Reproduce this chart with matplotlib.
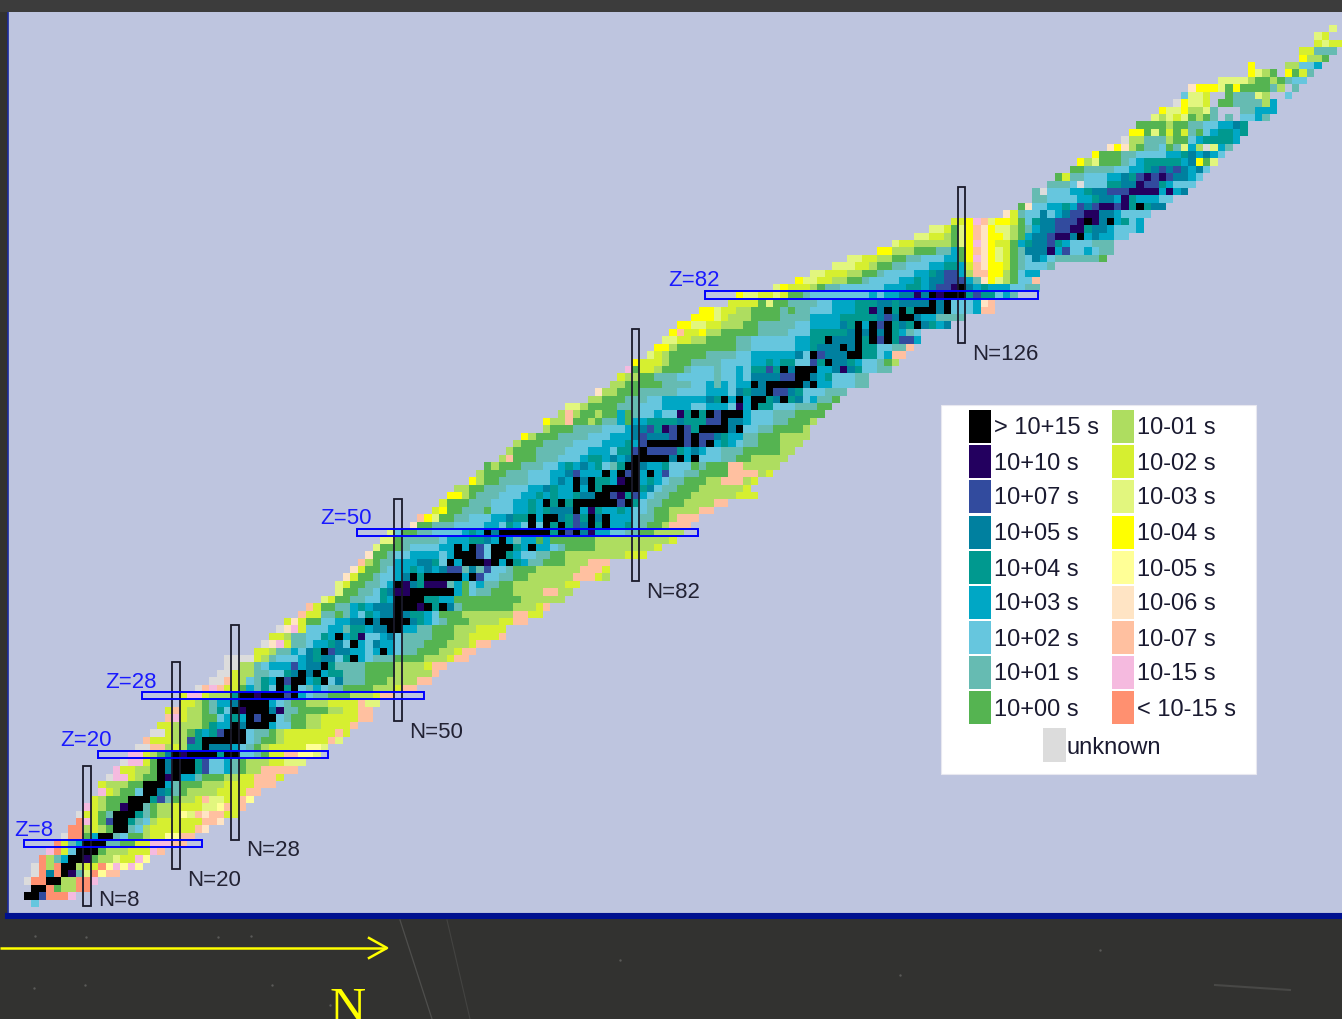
# half-life chart of the nuclides, colour per (N, Z) cell
import numpy as np
import matplotlib
matplotlib.use("Agg")
import matplotlib.pyplot as plt
from matplotlib.colors import ListedColormap
from matplotlib.patches import Rectangle

plt.rcParams['font.family'] = ['Liberation Sans', 'DejaVu Sans']

# one code per half-life class
CODES = "abcdefghijklmnopqru"
COLORS = ["#000000", "#23005f", "#324b9e", "#00809f", "#00998f", "#00a7c5",
          "#66c6de", "#66bbb2", "#55b451", "#aedd60", "#d6ef30", "#e2f67e",
          "#ffff00", "#ffff96", "#ffe4c4", "#ffc0a0", "#f5badf", "#ff9070",
          "#dcdcdc"]

# first N of every row, index = Z
ROW_START = [1, 0, 1, 0, 1, 1, 2, 3, 4, 5,
             6, 7, 7, 8, 9, 10, 10, 11, 12, 13,
             14, 15, 16, 17, 18, 19, 19, 21, 21, 23,
             25, 26, 27, 27, 31, 32, 33, 34, 35, 37,
             38, 40, 42, 42, 43, 44, 45, 46, 47, 48,
             49, 52, 53, 55, 56, 57, 58, 60, 61, 62,
             64, 65, 66, 67, 70, 70, 72, 73, 76, 77,
             79, 80, 81, 82, 84, 85, 86, 87, 88, 90,
             91, 95, 96, 101, 104, 106, 109, 111, 115, 117,
             120, 122, 125, 132, 134, 136, 136, 138, 139, 141,
             142, 144, 146, 148, 149, 150, 152, 153, 155, 156,
             157, 161, 165, 165, 172, 172, 174, 174, 176]

# half-life codes along N for every row, '.' = no cell
ROW_CODES = [
    "g", "aacrrrq", "aarijjrr", "urraajjrrq", "urdrabhlrnpp",
    "urjraajkkrnqnqn", "rjhfaabijjlkkqn", "qrkgaaaijjjkkkqp", "rkhfaaahhiikkqqqpp",
    "urrifaahgiijkknnpp", "rrjkjiaahgjkkkkkkpo", "rqkicaaehgjkkkkkkppo",
    "ukkihaaaehijjknlpoppkk", "qkjiibaahijjkkkkllnpkp", "kjiiiaaaechijjkpllkkpn",
    "qkjiigaadehijjjjkkkkpp", "kjjjiiaaafhiiijjjkkkkppp", "uqqkjiiabaffhiiijjkkpppk",
    "qkkjjiadaaaecggfhijjppppp", "uqqkiadaaaecggfhijjjkklll",
    "qqkjidabaaaaeaagghikkppnnl", "uuppjkjeeadddfghijkkkkknnl",
    "pkkkjjceaaaaaaghiijkkkkkkpl", "uukjjiefecaaaghhijkkkkkkkpk",
    "kkjjjjieffadaaafggiijjkkkkp", "pqkjjiigfefacaaghiijjkkkkkpp",
    "kpkjjihegabaaadbhhiiiijjkkpp", "kkjihffdaaaafghiijjjkkkkpll",
    "kqqkjjjeaabaaacafghhiiijjjkpp", "upqpkkifhegaeaghfghhiiiijjjkpp",
    "uupkjghefacaafeagdhhhiiijjjjpp", "uukjjhhggedadafeehhhiiiijjjjjp",
    "uujjhgfffcfddaehhhhiiiijjjjkpp", "uuuukjhgggfdeddgeafghhhiiiijjjkpp",
    "kkjhhfgdeacddffgfafghhiiijjkpp", "uoqkhhgffedgafgdffghhhiiijjjkpp",
    "kkjhhggefafebggfdghhhhiiijjkkkkp", "uoqkgggffheefddaaffhhiiijjjkkkk",
    "kokiiggffddadaaaadefghiiijjjjkkpp", "pkkhhihfgefddadeefgiiijjjjjjjppkk",
    "pkiihhfefdddaaabaeadhiiiiiiijjjkp", "lkiihhggefaaaaeeffiiiiiiiiijjjjjj",
    "liihhgedbbaaaaaafighhiiijjjjppjj", "lkiihhgfabdebbbhfigfhhiijjjjjjjkk",
    "okiihggfdaeaaaaafacgghhiijjjjjjpppkj", "okiihgffefdfdcchdhcgghiiijjjjjjpppk",
    "pjihhfffddegafaaabafaefhhiiijjjppp", "oiihggffffgfaaacgaaefgghhiijjjjjjjjkkk",
    "liiihggggffafacgaaaefaffghiiiijjjjjjjjk", "llihhhhhgfffeedfafhffifiiiiiijjjjjjjjjjk",
    "lgiihhggggfefadaaaaaaaeacadbffgghhiijjjj", "oiihhhggggffgefgagaeaecdaeaffeghiijppp",
    "pmliihhgggffdeeafaadeceadafffghhiijppp", "kmiihhhigggffefedddafbeffefgghiijjjjpp",
    "kiiihhhgggffefaeaeaaaaaacaeghhiiijjjjpp", "mmjihhhgggffefeffeddaacbecfghhiiijjjjjjkkk",
    "jjiihhhgggffdeffafaeaaaaaedghhiiijjjjjjk", "mjiihhhhgggfdfadaeefbaafefghhiiijjpppjk",
    "jiiihhhgggffdcfffafacafafcgghhiiiippppjk", "ijiiihhhggfefdfegheaadffegggihiiippjjjjj",
    "jpiiihhhgggfeefdfdaaaaadafaggghhiijjjjj", "jiiihhhhgggfffgeecaccccefdfgghhhiiiiijj",
    "jiiihhhhggggfffefcaaaaacacafefghhiiijjj", "mjiiihhhhgggfffdcdddcacaccdeffhhiiijjjj",
    "jiiihhhhgggfddcebcaceaaaadagghhiiiij", "mjjpiijihhfiffeeeedeeeccaddfggghhiiij",
    "jpjiijiifihggfggbeaeacaaafggghhhiiii", "lljiiiihhhgggffffggfffgbfaeeggghhhii",
    "jjiiihhhggffffffdeafafaaedaedgfhhi", "ojjiiihhhhhggggfffgdeddaccdeggghhh",
    "jjiiiiihhhhggfhfgffadaaaaadaffggghh", "kjjiihhhggggghggfgddddccaadfeggghh",
    "qikkjiiihggghggfgeeceadaaaffdbdegghh", "mkkkjiiihhhhggggffefeeggceaddefgghij",
    "lkjiiiiihhhhggffffffdgacdddaaeegfpp", "mmjiiiiiiiihhggggggffedddadaeegghhp",
    "llkkjjiiiihhggggggffeeadddaeacaeccf", "mpkkmjjiiiiihhhhgggeeeeedadadaefhg",
    "mmllkkjjjiihhhhhggffffdeafacaedeadefd", "mmmlkjjjiiiihhhhffffeeeeedcdaadffhhhh",
    "mmlkkjjiiiihihhgggfffeebdaeaeaaadagggfpp", "kkkkiliihhhhggfffeeeddeddddadagggfop",
    "mllkklkiihggggggggfgffddbdabaaaeceegfh", "lmkkkjihhggggggfffeefdccbadfefffgghh",
    "mllkkjjiihggggffefddcccfhomljiggp", "llkkkjjiihggggffedccfjppmmjigff",
    "lllkkjiihhgggffeefkpommkihgggh", "llkkjjiihhgggffimqomlkihgdfghhhhhhi",
    "mmjjjiiihhfimpomlkihdddbfcggfghh", "lkkjjjjjilmqomkkifeddcefggghhh",
    "llkkjilmpommljifddcbbdafdffgg", "llkilmpomlljihfddccbbeddfgggf",
    "kkmqplmmkigeddcccbabdafegf", "okhggdgfdccbbddfgggg",
    "ioggffefcdcbbcbeaedd", "hhggggffeddfbefffgg", "hugggffeddcccbbbbfbfd",
    "hhhgugggeeddbccefggg", "ikhhgggffdecbcbcddfg", "iihhhhggffedcdcdfdg",
    "mjliiihgfeeeeefdmil", "miiihhggggffedfdfg", "omojihhgihlfjulfh",
    "ujjhhhjiigfeeeef", "mmilikikhigfeefe", "iiiijiihhggffde",
    "ljlklijih.h.ggfh", "mllmjjlh...hhfff", "umllk.iihhhhjf", "gllk..ihhhlj..g",
    "ommmlimiiiihj.h", "lllljiijihgg", "mlji.mikh", "m....jjggf",
    "mjji", "kkhhh", "klkk", "lk", "l",
]

# magic numbers and the span of their boxes
MAGIC_N = [8, 20, 28, 50, 82, 126]
MAGIC_N_ZLOW = [-0.4, 4.5, 8.5, 24.5, 43.4, 75.5]
MAGIC_N_ZHIGH = [18.4, 32.5, 37.5, 54.5, 77.5, 96.6]
MAGIC_Z = [8, 20, 28, 50, 82]
MAGIC_Z_NLOW = [-0.5, 9.5, 15.4, 44.5, 91.4]
MAGIC_Z_NHIGH = [23.5, 40.5, 53.5, 90.5, 136.4]

LEGEND_LEFT = ["> 10+15 s", "10+10 s", "10+07 s", "10+05 s", "10+04 s",
               "10+03 s", "10+02 s", "10+01 s", "10+00 s"]
LEGEND_RIGHT = ["10-01 s", "10-02 s", "10-03 s", "10-04 s", "10-05 s",
                "10-06 s", "10-07 s", "10-15 s", "< 10-15 s"]

W, H = 1342, 1019
CELL = 7.41
X0, Y0 = 27.7, 902.8  # pixel of N=0, Z=0


def px_n(x):
    return (x - X0) / CELL


def px_z(y):
    return (Y0 - y) / CELL


# build the grid
grid = np.full((len(ROW_CODES), 179), np.nan)
for z, (start, codes) in enumerate(zip(ROW_START, ROW_CODES)):
    for i, c in enumerate(codes):
        if c != '.':
            grid[z, start + i] = CODES.index(c)

fig = plt.figure(figsize=(W / 100, H / 100), dpi=100, facecolor="#323230")

# main panel
ax = fig.add_axes([8 / W, (H - 916) / H, (W - 8) / W, (916 - 12) / H], facecolor="#bec5df")
ax.imshow(np.ma.masked_invalid(grid), origin="lower", cmap=ListedColormap(COLORS),
          vmin=0, vmax=len(COLORS) - 1, interpolation="nearest", aspect="auto",
          extent=(-0.5, 178.5, -0.5, len(ROW_CODES) - 0.5))
ax.set_xlim(px_n(8), px_n(W))
ax.set_ylim(px_z(916), px_z(12))
ax.set_xticks([])
ax.set_yticks([])
for side in ["top", "right"]:
    ax.spines[side].set_visible(False)
ax.spines["left"].set_color("#1a2a9c")
ax.spines["left"].set_linewidth(1.2)
ax.spines["bottom"].set_color("#00118f")
ax.spines["bottom"].set_linewidth(4.4)

# magic number boxes
for n, lo, hi in zip(MAGIC_N, MAGIC_N_ZLOW, MAGIC_N_ZHIGH):
    ax.add_patch(Rectangle((n - 0.5, lo), 1, hi - lo, fill=False, ec="#1a1a2a", lw=1.3, zorder=4))
for z, lo, hi in zip(MAGIC_Z, MAGIC_Z_NLOW, MAGIC_Z_NHIGH):
    ax.add_patch(Rectangle((lo, z - 0.5), hi - lo, 1, fill=False, ec="#0000ff", lw=1.4, zorder=5))

# labels next to the boxes
for n, x, y in zip(MAGIC_N, [98, 187, 246, 409, 646, 972], [900, 881, 851, 733, 592, 355]):
    ax.text(px_n(x), px_z(y), "N=%d" % n, color="#222233", fontsize=16, va="center", ha="left")
for z, x, y in zip(MAGIC_Z, [14, 60, 105, 320, 668], [830, 741, 682, 518, 281]):
    ax.text(px_n(x), px_z(y), "Z=%d" % z, color="#1a1aff", fontsize=16, va="center", ha="left")

# overlay in pixels for the legend and the arrow
ov = fig.add_axes([0, 0, 1, 1], zorder=3)
ov.patch.set_alpha(0)
ov.set_xlim(0, W)
ov.set_ylim(H, 0)
ov.axis("off")

ov.add_patch(Rectangle((941, 405), 315, 369, fc="white", ec="#e8e8f0", lw=0.8))
row_y = [427, 462, 497, 533, 568, 603, 638, 673, 708]
for i, y in enumerate(row_y):
    ov.add_patch(Rectangle((969, y - 17), 22, 33, fc=COLORS[i], ec="none"))
    ov.add_patch(Rectangle((1112, y - 17), 22, 33, fc=COLORS[i + 9], ec="none"))
    ov.text(994, y + 1.5, LEGEND_LEFT[i], fontsize=17, color="#1a1a30", va="center", ha="left")
    ov.text(1137, y + 1.5, LEGEND_RIGHT[i], fontsize=17, color="#1a1a30", va="center", ha="left")
ov.add_patch(Rectangle((1043, 728), 23, 34, fc=COLORS[18], ec="none"))
ov.text(1067, 747.5, "unknown", fontsize=17, color="#1a1a30", va="center", ha="left")

# yellow arrow under the panel
ov.plot([0, 386], [948, 948], color="#ffff00", lw=1.8, solid_capstyle="butt")
ov.plot([369, 387, 369], [938, 948, 958], color="#ffff00", lw=1.8)
ov.text(348, 1022, "N", family="Liberation Serif", color="#ffff00", fontsize=36,
        ha="center", va="baseline", clip_on=True)

# chalk marks on the board
ov.plot([400, 432], [920, 1019], color="#565654", lw=0.9, alpha=0.8)
ov.plot([447, 470], [920, 1019], color="#484846", lw=0.8, alpha=0.8)
ov.plot([1215, 1290], [985, 990], color="#484846", lw=1.5)
ov.scatter([34, 86, 218, 251, 272, 35, 85, 330, 620, 900, 1100],
           [988, 937, 937, 936, 985, 936, 985, 1005, 960, 975, 950],
           s=3, color="#5a5a58", linewidths=0)
ov.add_patch(Rectangle((0, 0), W, 12, fc="#3c3c3c", ec="none", zorder=0))

fig.savefig("out.png", dpi=100, facecolor=fig.get_facecolor())
